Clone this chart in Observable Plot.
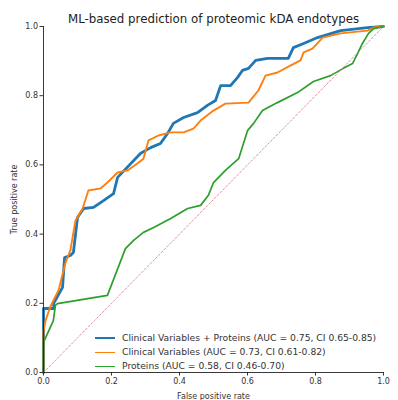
<!DOCTYPE html>
<html>
<head>
<meta charset="utf-8">
<script src="https://cdn.jsdelivr.net/npm/d3@7"></script>
<script src="https://cdn.jsdelivr.net/npm/@observablehq/plot@0.6"></script>
<style>
  html, body { margin: 0; padding: 0; background: #fff; }
  #wrap { position: relative; width: 398px; height: 400px; font-family: "DejaVu Sans", sans-serif; }
  #legend { position: absolute; left: 95px; top: 331px; font-size: 9.2px; color: #333; line-height: 14px; }
  #legend .row { display: flex; align-items: center; white-space: nowrap; }
  #legend .sw { width: 20px; margin-right: 7px; }
</style>
</head>
<body>
<div id="wrap"></div>
<script>
const title = "ML-based prediction of proteomic kDA endotypes";
const xLabel = "False positive rate";
const yLabel = "True positive rate";
const ticks = [0, 0.2, 0.4, 0.6, 0.8, 1.0];

const seriesNames = [
  "Clinical Variables + Proteins (AUC = 0.75, CI 0.65-0.85)",
  "Clinical Variables (AUC = 0.73, CI 0.61-0.82)",
  "Proteins (AUC = 0.58, CI 0.46-0.70)"
];
const seriesColors = ["#1f77b4", "#ff7f0e", "#2ca02c"];
const seriesWidths = [2.8, 1.9, 1.7];

const fprBlue = [0, 0, 0.03, 0.03, 0.056, 0.062, 0.079, 0.088, 0.10, 0.118, 0.147, 0.168, 0.206, 0.218, 0.285, 0.315, 0.344, 0.365, 0.382, 0.412, 0.453, 0.482, 0.506, 0.521, 0.55, 0.571, 0.585, 0.603, 0.624, 0.659, 0.72, 0.735, 0.765, 0.806, 0.874, 0.953, 1.0];
const tprBlue = [0, 0.185, 0.185, 0.20, 0.246, 0.332, 0.338, 0.347, 0.448, 0.474, 0.477, 0.491, 0.517, 0.564, 0.633, 0.650, 0.662, 0.691, 0.72, 0.737, 0.751, 0.772, 0.786, 0.829, 0.829, 0.853, 0.873, 0.879, 0.902, 0.908, 0.908, 0.939, 0.951, 0.968, 0.988, 0.997, 1.0];

const fprOrange = [0, 0, 0.006, 0.02, 0.044, 0.065, 0.079, 0.094, 0.115, 0.132, 0.168, 0.188, 0.218, 0.247, 0.276, 0.294, 0.309, 0.338, 0.374, 0.412, 0.441, 0.462, 0.5, 0.535, 0.603, 0.632, 0.653, 0.688, 0.726, 0.756, 0.765, 0.791, 0.821, 0.874, 0.953, 0.971, 1.0];
const tprOrange = [0, 0.12, 0.15, 0.19, 0.237, 0.318, 0.353, 0.439, 0.474, 0.526, 0.532, 0.549, 0.578, 0.584, 0.604, 0.618, 0.671, 0.685, 0.694, 0.694, 0.705, 0.728, 0.757, 0.777, 0.780, 0.815, 0.858, 0.867, 0.887, 0.902, 0.925, 0.936, 0.968, 0.980, 0.988, 0.997, 1.0];

const fprGreen = [0, 0, 0.029, 0.035, 0.041, 0.188, 0.241, 0.265, 0.294, 0.324, 0.374, 0.424, 0.462, 0.485, 0.5, 0.535, 0.574, 0.6, 0.618, 0.644, 0.688, 0.747, 0.794, 0.844, 0.882, 0.909, 0.924, 0.938, 0.956, 0.971, 1.0];
const tprGreen = [0, 0.087, 0.150, 0.194, 0.199, 0.223, 0.358, 0.382, 0.405, 0.419, 0.445, 0.474, 0.483, 0.512, 0.549, 0.584, 0.618, 0.699, 0.720, 0.757, 0.780, 0.809, 0.841, 0.858, 0.879, 0.893, 0.922, 0.951, 0.980, 0.994, 1.0];

const chance = [0, 1];

const toRows = (xs, ys) => xs.map((x, i) => ({x, y: ys[i]}));
const blue = toRows(fprBlue, tprBlue);
const orange = toRows(fprOrange, tprOrange);
const green = toRows(fprGreen, tprGreen);
const diag = chance.map(v => ({x: v, y: v}));

const fmt = d3.format(".1f");

const plot = Plot.plot({
  width: 398,
  height: 400,
  marginLeft: 43,
  marginRight: 15,
  marginTop: 26,
  marginBottom: 28,
  style: {fontFamily: "DejaVu Sans, sans-serif", fontSize: "8px", color: "#333", background: "#fff"},
  x: {domain: [0, 1], ticks, tickFormat: fmt},
  y: {domain: [0, 1], ticks, tickFormat: fmt},
  marks: [
    Plot.line(blue, {x: "x", y: "y", stroke: seriesColors[0], strokeWidth: seriesWidths[0]}),
    Plot.line(orange, {x: "x", y: "y", stroke: seriesColors[1], strokeWidth: seriesWidths[1]}),
    Plot.line(green, {x: "x", y: "y", stroke: seriesColors[2], strokeWidth: seriesWidths[2]}),
    Plot.line(diag, {x: "x", y: "y", stroke: "#d07a8a", strokeWidth: 1, strokeDasharray: "2,2", strokeOpacity: 0.8}),
    Plot.axisX({ticks, tickFormat: fmt, tickSize: 3.5, tickPadding: 2, label: xLabel, labelAnchor: "center", labelArrow: "none", labelOffset: 26, fontSize: 8}),
    Plot.axisY({ticks, tickFormat: fmt, tickSize: 3.5, tickPadding: 2, label: yLabel, labelAnchor: "center", labelArrow: "none", labelOffset: 32, fontSize: 8}),
    Plot.ruleX([0], {stroke: "#222", strokeWidth: 0.9}),
    Plot.ruleY([0], {stroke: "#222", strokeWidth: 0.9}),
    Plot.text([title], {frameAnchor: "top", dy: -12, fontSize: 11.8, fill: "#222"})
  ]
});

const wrap = document.getElementById("wrap");
wrap.appendChild(plot);

const legend = document.createElement("div");
legend.id = "legend";
seriesNames.forEach((name, i) => {
  const row = document.createElement("div");
  row.className = "row";
  const sw = document.createElement("div");
  sw.className = "sw";
  sw.style.borderTop = seriesWidths[i] + "px solid " + seriesColors[i];
  const label = document.createElement("span");
  label.textContent = name;
  row.appendChild(sw);
  row.appendChild(label);
  legend.appendChild(row);
});
wrap.appendChild(legend);
</script>
</body>
</html>
